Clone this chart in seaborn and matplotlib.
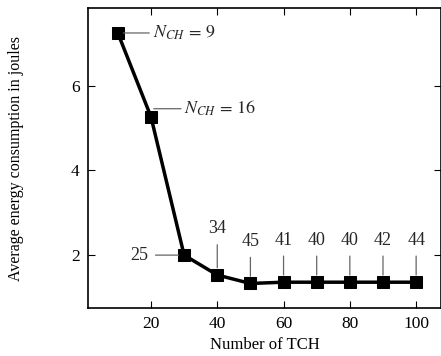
import matplotlib
matplotlib.use("Agg")
import matplotlib.pyplot as plt
import seaborn as sns
import pandas as pd

tch = [10, 20, 30, 40, 50, 60, 70, 80, 90, 100]
energy = [7.25, 5.27, 2.0, 1.53, 1.33, 1.36, 1.36, 1.36, 1.36, 1.36]
nch = [9, 16, 25, 34, 45, 41, 40, 40, 42, 44]
xticks = [20, 40, 60, 80, 100]
yticks = [2, 4, 6]

sns.set_theme(style="ticks")
plt.rcParams['font.family'] = ['Liberation Serif', 'DejaVu Serif']
plt.rcParams['mathtext.fontset'] = 'stix'

df = pd.DataFrame({"tch": tch, "energy": energy})

fig = plt.figure(figsize=(4.41, 3.56), dpi=100)
ax = fig.add_axes([0.1995, 0.1348, 0.8005, 0.8427])
sns.lineplot(data=df, x="tch", y="energy", ax=ax, color="black", linewidth=2.5,
             marker="s", markersize=8, markeredgecolor="black", markerfacecolor="black")

ax.set_xlim(1, 107.5)
ax.set_ylim(0.75, 7.84)
ax.set_xticks(xticks)
ax.set_yticks(yticks)
ax.tick_params(direction="in", top=True, right=True, labelsize=12.5, length=5, width=0.8,
               colors="black", pad=6)
for s in ax.spines.values():
    s.set_linewidth(1.2)
    s.set_color("black")
ax.set_xlabel("Number of TCH", fontsize=12, color="black", labelpad=3)
ax.set_ylabel("Average energy consumption in joules", fontsize=11.5, color="black", labelpad=34)

lp = dict(arrowstyle="-", color="#666666", lw=0.9, shrinkA=0, shrinkB=4)
fs = 13
ax.annotate(r"$N_{CH}\,=\,9$", xy=(tch[0], energy[0]), xytext=(25, 0), textcoords="offset points",
            fontsize=fs, va="center", ha="left", arrowprops=lp)
ax.annotate(r"$N_{CH}\,=\,16$", xy=(tch[1], energy[1] + 0.19), xytext=(24, 0), textcoords="offset points",
            fontsize=fs, va="center", ha="left", arrowprops=dict(lp, shrinkB=2))
ax.annotate(str(nch[2]), xy=(tch[2], energy[2]), xytext=(-26, 0), textcoords="offset points",
            fontsize=fs, va="center", ha="right", arrowprops=dict(lp, shrinkA=3))
for i in range(3, len(tch)):
    off = 22 if i == 3 else 19
    ax.annotate(str(nch[i]), xy=(tch[i], energy[i] + 0.17), xytext=(0, off), textcoords="offset points",
                fontsize=fs, va="bottom", ha="center", arrowprops=dict(lp, shrinkA=3, shrinkB=0))

fig.savefig("out.png", dpi=100)
